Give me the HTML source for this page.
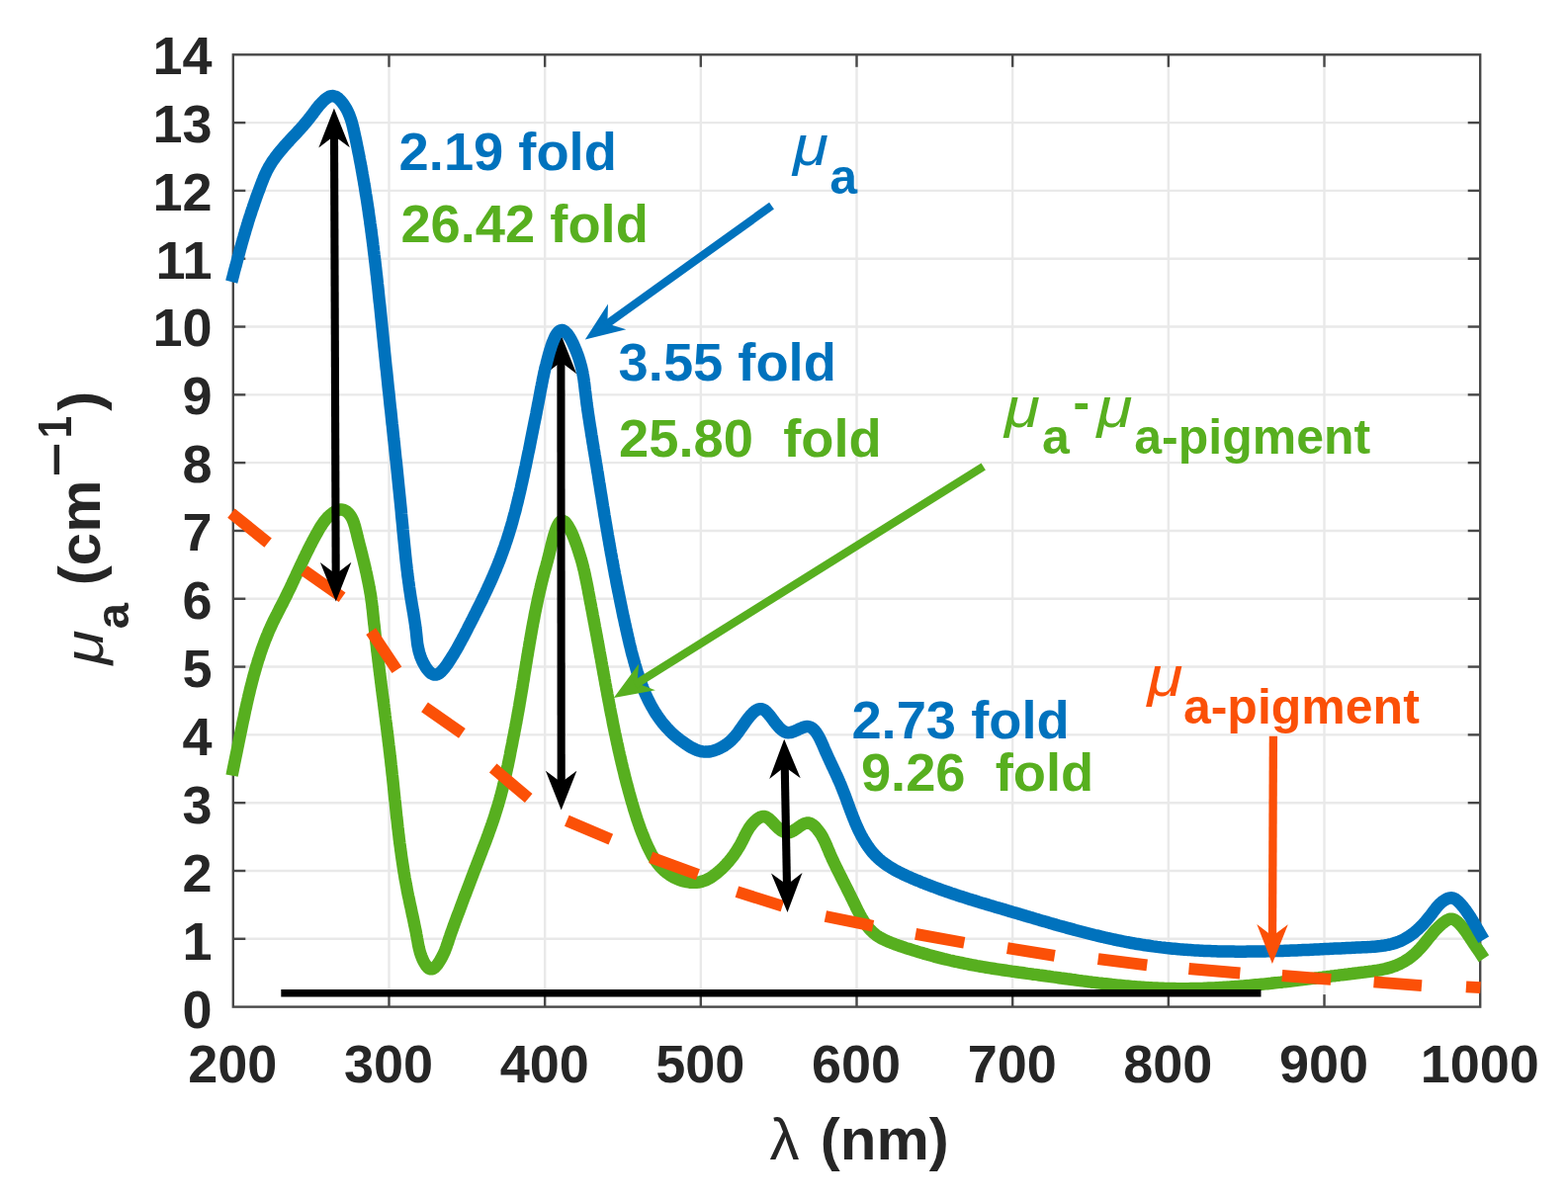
<!DOCTYPE html>
<html lang="en">
<head>
<meta charset="utf-8">
<title>Absorption coefficient spectra</title>
<style>
html,body{margin:0;padding:0;background:#fff;}
body{width:1586px;height:1214px;overflow:hidden;}
svg{display:block;}
text{font-family:"Liberation Sans",sans-serif;font-weight:bold;}
.tick{font-size:54px;fill:#262626;}
.lab{font-size:60px;fill:#262626;}
.ann{font-size:54.3px;}
.mu{font-family:"Liberation Sans",sans-serif;font-style:italic;font-weight:normal;}
.sub{font-size:50px;}
</style>
</head>
<body>
<svg width="1586" height="1214" viewBox="0 0 1586 1214">
<rect x="0" y="0" width="1586" height="1214" fill="#ffffff"/>
<g stroke="#e9e9e9" stroke-width="2.4" fill="none">
<line x1="393.48" y1="55.3" x2="393.48" y2="1018.6"/>
<line x1="551.15" y1="55.3" x2="551.15" y2="1018.6"/>
<line x1="708.83" y1="55.3" x2="708.83" y2="1018.6"/>
<line x1="866.50" y1="55.3" x2="866.50" y2="1018.6"/>
<line x1="1024.17" y1="55.3" x2="1024.17" y2="1018.6"/>
<line x1="1181.85" y1="55.3" x2="1181.85" y2="1018.6"/>
<line x1="1339.53" y1="55.3" x2="1339.53" y2="1018.6"/>
<line x1="235.8" y1="949.79" x2="1497.2" y2="949.79"/>
<line x1="235.8" y1="880.99" x2="1497.2" y2="880.99"/>
<line x1="235.8" y1="812.18" x2="1497.2" y2="812.18"/>
<line x1="235.8" y1="743.37" x2="1497.2" y2="743.37"/>
<line x1="235.8" y1="674.56" x2="1497.2" y2="674.56"/>
<line x1="235.8" y1="605.76" x2="1497.2" y2="605.76"/>
<line x1="235.8" y1="536.95" x2="1497.2" y2="536.95"/>
<line x1="235.8" y1="468.14" x2="1497.2" y2="468.14"/>
<line x1="235.8" y1="399.34" x2="1497.2" y2="399.34"/>
<line x1="235.8" y1="330.53" x2="1497.2" y2="330.53"/>
<line x1="235.8" y1="261.72" x2="1497.2" y2="261.72"/>
<line x1="235.8" y1="192.91" x2="1497.2" y2="192.91"/>
<line x1="235.8" y1="124.11" x2="1497.2" y2="124.11"/>
</g>
<g stroke="#484848" stroke-width="2.4" fill="none">
<rect x="235.8" y="55.3" width="1261.4" height="963.3000000000001"/>
<line x1="393.48" y1="1018.6" x2="393.48" y2="1006.1"/>
<line x1="393.48" y1="55.3" x2="393.48" y2="67.8"/>
<line x1="551.15" y1="1018.6" x2="551.15" y2="1006.1"/>
<line x1="551.15" y1="55.3" x2="551.15" y2="67.8"/>
<line x1="708.83" y1="1018.6" x2="708.83" y2="1006.1"/>
<line x1="708.83" y1="55.3" x2="708.83" y2="67.8"/>
<line x1="866.50" y1="1018.6" x2="866.50" y2="1006.1"/>
<line x1="866.50" y1="55.3" x2="866.50" y2="67.8"/>
<line x1="1024.17" y1="1018.6" x2="1024.17" y2="1006.1"/>
<line x1="1024.17" y1="55.3" x2="1024.17" y2="67.8"/>
<line x1="1181.85" y1="1018.6" x2="1181.85" y2="1006.1"/>
<line x1="1181.85" y1="55.3" x2="1181.85" y2="67.8"/>
<line x1="1339.53" y1="1018.6" x2="1339.53" y2="1006.1"/>
<line x1="1339.53" y1="55.3" x2="1339.53" y2="67.8"/>
<line x1="235.8" y1="949.79" x2="248.3" y2="949.79"/>
<line x1="1497.2" y1="949.79" x2="1484.7" y2="949.79"/>
<line x1="235.8" y1="880.99" x2="248.3" y2="880.99"/>
<line x1="1497.2" y1="880.99" x2="1484.7" y2="880.99"/>
<line x1="235.8" y1="812.18" x2="248.3" y2="812.18"/>
<line x1="1497.2" y1="812.18" x2="1484.7" y2="812.18"/>
<line x1="235.8" y1="743.37" x2="248.3" y2="743.37"/>
<line x1="1497.2" y1="743.37" x2="1484.7" y2="743.37"/>
<line x1="235.8" y1="674.56" x2="248.3" y2="674.56"/>
<line x1="1497.2" y1="674.56" x2="1484.7" y2="674.56"/>
<line x1="235.8" y1="605.76" x2="248.3" y2="605.76"/>
<line x1="1497.2" y1="605.76" x2="1484.7" y2="605.76"/>
<line x1="235.8" y1="536.95" x2="248.3" y2="536.95"/>
<line x1="1497.2" y1="536.95" x2="1484.7" y2="536.95"/>
<line x1="235.8" y1="468.14" x2="248.3" y2="468.14"/>
<line x1="1497.2" y1="468.14" x2="1484.7" y2="468.14"/>
<line x1="235.8" y1="399.34" x2="248.3" y2="399.34"/>
<line x1="1497.2" y1="399.34" x2="1484.7" y2="399.34"/>
<line x1="235.8" y1="330.53" x2="248.3" y2="330.53"/>
<line x1="1497.2" y1="330.53" x2="1484.7" y2="330.53"/>
<line x1="235.8" y1="261.72" x2="248.3" y2="261.72"/>
<line x1="1497.2" y1="261.72" x2="1484.7" y2="261.72"/>
<line x1="235.8" y1="192.91" x2="248.3" y2="192.91"/>
<line x1="1497.2" y1="192.91" x2="1484.7" y2="192.91"/>
<line x1="235.8" y1="124.11" x2="248.3" y2="124.11"/>
<line x1="1497.2" y1="124.11" x2="1484.7" y2="124.11"/>
</g>
<path d="M235.8,778.5 L236.2,776.5 L236.6,774.6 L237.0,772.6 L237.4,770.7 L237.8,768.7 L238.2,766.8 L238.6,764.8 L239.0,762.9 L239.4,760.9 L239.8,758.9 L240.2,757.0 L240.6,755.0 L241.0,753.1 L241.4,751.1 L241.8,749.2 L242.2,747.2 L242.6,745.3 L243.0,743.3 L243.4,741.3 L243.8,739.4 L244.2,737.4 L244.6,735.5 L245.0,733.5 L245.4,731.5 L245.8,729.6 L246.3,727.6 L246.7,725.7 L247.1,723.7 L247.5,721.7 L247.9,719.8 L248.3,717.8 L248.8,715.9 L249.2,713.9 L249.6,711.9 L250.1,710.0 L250.5,708.0 L251.0,706.1 L251.4,704.1 L251.9,702.2 L252.4,700.2 L252.8,698.3 L253.3,696.3 L253.8,694.4 L254.3,692.4 L254.8,690.5 L255.3,688.5 L255.8,686.6 L256.3,684.7 L256.8,682.7 L257.4,680.8 L257.9,678.9 L258.5,677.0 L259.0,675.0 L259.6,673.1 L260.2,671.2 L260.7,669.3 L261.3,667.4 L262.0,665.5 L262.6,663.6 L263.2,661.7 L263.8,659.8 L264.5,657.9 L265.1,656.1 L265.8,654.2 L266.5,652.3 L267.2,650.4 L267.9,648.6 L268.6,646.7 L269.4,644.9 L270.1,643.0 L270.9,641.2 L271.6,639.3 L272.4,637.5 L273.2,635.7 L274.1,633.9 L274.9,632.0 L275.7,630.2 L276.6,628.4 L277.5,626.6 L278.4,624.8 L279.3,623.0 L280.2,621.3 L281.1,619.5 L282.0,617.7 L282.9,615.9 L283.8,614.1 L284.7,612.4 L285.7,610.6 L286.6,608.8 L287.5,607.0 L288.4,605.2 L289.3,603.4 L290.2,601.6 L291.0,599.8 L291.9,598.0 L292.8,596.2 L293.7,594.4 L294.5,592.6 L295.4,590.8 L296.2,588.9 L297.1,587.1 L297.9,585.3 L298.8,583.5 L299.6,581.7 L300.5,579.8 L301.3,578.0 L302.1,576.2 L303.0,574.4 L303.8,572.6 L304.7,570.8 L305.5,569.0 L306.4,567.2 L307.3,565.3 L308.1,563.5 L309.0,561.7 L309.8,560.0 L310.7,558.2 L311.6,556.4 L312.5,554.6 L313.4,552.8 L314.3,551.0 L315.2,549.3 L316.1,547.5 L317.0,545.8 L318.0,544.0 L318.9,542.3 L319.9,540.5 L320.9,538.8 L321.8,537.1 L322.8,535.4 L323.8,533.7 L324.9,532.0 L326.0,530.3 L327.1,528.7 L328.3,527.1 L329.6,525.5 L330.9,524.0 L332.4,522.5 L333.9,521.1 L335.6,519.7 L337.4,518.4 L339.2,517.2 L341.1,516.3 L343.0,515.7 L344.9,515.4 L346.7,515.6 L348.5,516.3 L350.2,517.2 L351.8,518.5 L353.2,520.0 L354.4,521.7 L355.5,523.4 L356.4,525.1 L357.2,527.0 L357.9,528.9 L358.5,530.8 L359.1,532.7 L359.6,534.7 L360.1,536.7 L360.6,538.6 L361.1,540.6 L361.5,542.5 L362.0,544.5 L362.5,546.5 L363.0,548.4 L363.5,550.4 L364.0,552.3 L364.5,554.3 L365.0,556.2 L365.5,558.2 L366.0,560.1 L366.4,562.0 L366.9,564.0 L367.4,565.9 L367.9,567.9 L368.3,569.8 L368.8,571.8 L369.3,573.7 L369.7,575.6 L370.1,577.6 L370.6,579.5 L371.0,581.5 L371.4,583.4 L371.8,585.4 L372.2,587.3 L372.6,589.3 L373.0,591.2 L373.4,593.2 L373.7,595.1 L374.1,597.1 L374.4,599.0 L374.8,601.0 L375.1,603.0 L375.4,604.9 L375.6,606.9 L375.9,608.9 L376.2,610.9 L376.4,612.8 L376.6,614.8 L376.9,616.8 L377.1,618.8 L377.3,620.8 L377.5,622.8 L377.7,624.8 L377.9,626.8 L378.1,628.7 L378.3,630.7 L378.6,632.7 L378.8,634.7 L379.0,636.7 L379.2,638.7 L379.4,640.7 L379.6,642.7 L379.8,644.7 L380.1,646.7 L380.3,648.7 L380.5,650.6 L380.8,652.6 L381.0,654.6 L381.2,656.6 L381.4,658.6 L381.7,660.6 L381.9,662.6 L382.2,664.6 L382.4,666.5 L382.6,668.5 L382.9,670.5 L383.1,672.5 L383.4,674.5 L383.6,676.5 L383.8,678.5 L384.1,680.4 L384.3,682.4 L384.6,684.4 L384.8,686.4 L385.1,688.4 L385.3,690.4 L385.6,692.4 L385.8,694.3 L386.1,696.3 L386.3,698.3 L386.6,700.3 L386.8,702.3 L387.1,704.3 L387.4,706.3 L387.6,708.2 L387.9,710.2 L388.1,712.2 L388.4,714.2 L388.6,716.2 L388.9,718.2 L389.1,720.1 L389.4,722.1 L389.6,724.1 L389.9,726.1 L390.1,728.1 L390.4,730.1 L390.6,732.0 L390.9,734.0 L391.1,736.0 L391.4,738.0 L391.6,740.0 L391.9,742.0 L392.1,743.9 L392.4,745.9 L392.6,747.9 L392.8,749.9 L393.1,751.9 L393.3,753.9 L393.6,755.8 L393.8,757.8 L394.0,759.8 L394.3,761.8 L394.5,763.8 L394.7,765.8 L395.0,767.7 L395.2,769.7 L395.4,771.7 L395.6,773.7 L395.9,775.7 L396.1,777.7 L396.3,779.6 L396.5,781.6 L396.7,783.6 L397.0,785.6 L397.2,787.6 L397.4,789.6 L397.6,791.5 L397.8,793.5 L398.0,795.5 L398.2,797.5 L398.4,799.5 L398.6,801.5 L398.8,803.5 L399.0,805.4 L399.2,807.4 L399.4,809.4 L399.7,811.4 L399.9,813.4 L400.1,815.4 L400.3,817.3 L400.5,819.3 L400.7,821.3 L400.9,823.3 L401.1,825.3 L401.3,827.3 L401.6,829.3 L401.8,831.2 L402.0,833.2 L402.2,835.2 L402.4,837.2 L402.7,839.2 L402.9,841.2 L403.1,843.1 L403.4,845.1 L403.6,847.1 L403.8,849.1 L404.1,851.1 L404.3,853.1 L404.6,855.0 L404.9,857.0 L405.1,859.0 L405.4,861.0 L405.7,863.0 L405.9,864.9 L406.2,866.9 L406.5,868.9 L406.8,870.9 L407.1,872.9 L407.4,874.8 L407.7,876.8 L408.0,878.8 L408.3,880.8 L408.6,882.8 L409.0,884.7 L409.3,886.7 L409.6,888.7 L410.0,890.7 L410.4,892.7 L410.7,894.6 L411.1,896.6 L411.5,898.6 L411.8,900.6 L412.2,902.5 L412.6,904.5 L413.0,906.5 L413.5,908.5 L413.9,910.4 L414.3,912.4 L414.7,914.4 L415.1,916.3 L415.6,918.3 L416.0,920.3 L416.4,922.2 L416.8,924.2 L417.2,926.1 L417.7,928.1 L418.1,930.0 L418.5,932.0 L418.9,933.9 L419.3,935.9 L419.7,937.8 L420.1,939.7 L420.5,941.6 L420.9,943.6 L421.2,945.5 L421.6,947.4 L421.9,949.3 L422.3,951.2 L422.6,953.1 L422.9,955.0 L423.3,956.9 L423.7,958.8 L424.2,960.8 L424.7,962.8 L425.4,964.9 L426.1,967.0 L426.9,969.1 L427.9,971.3 L428.9,973.4 L430.1,975.4 L431.3,977.2 L432.6,978.7 L433.9,979.7 L435.3,980.3 L436.8,980.3 L438.2,979.8 L439.7,978.8 L441.1,977.4 L442.5,975.7 L443.8,973.8 L445.1,971.7 L446.3,969.6 L447.4,967.5 L448.4,965.5 L449.3,963.6 L450.1,961.7 L450.8,959.8 L451.5,958.0 L452.1,956.1 L452.8,954.3 L453.4,952.6 L453.9,950.8 L454.5,949.0 L455.2,947.1 L455.8,945.3 L456.4,943.5 L457.1,941.6 L457.8,939.8 L458.4,937.9 L459.1,936.0 L459.8,934.1 L460.5,932.2 L461.2,930.3 L461.9,928.4 L462.6,926.5 L463.3,924.6 L464.1,922.7 L464.8,920.8 L465.5,918.9 L466.2,917.0 L466.9,915.1 L467.6,913.2 L468.3,911.3 L469.0,909.4 L469.7,907.6 L470.4,905.7 L471.2,903.8 L471.9,901.9 L472.6,900.1 L473.3,898.2 L474.0,896.3 L474.7,894.5 L475.4,892.6 L476.1,890.8 L476.8,888.9 L477.5,887.0 L478.2,885.2 L478.9,883.3 L479.6,881.5 L480.3,879.6 L481.1,877.8 L481.8,875.9 L482.5,874.0 L483.2,872.2 L483.9,870.3 L484.6,868.5 L485.4,866.6 L486.1,864.7 L486.8,862.9 L487.5,861.0 L488.2,859.1 L488.9,857.3 L489.7,855.4 L490.4,853.5 L491.1,851.7 L491.8,849.8 L492.5,847.9 L493.2,846.0 L493.9,844.2 L494.5,842.3 L495.2,840.4 L495.9,838.5 L496.6,836.6 L497.2,834.7 L497.9,832.9 L498.5,831.0 L499.2,829.1 L499.8,827.2 L500.4,825.3 L501.0,823.4 L501.6,821.4 L502.2,819.5 L502.8,817.6 L503.4,815.7 L504.0,813.8 L504.5,811.8 L505.1,809.9 L505.6,808.0 L506.2,806.0 L506.7,804.1 L507.2,802.2 L507.7,800.2 L508.2,798.3 L508.7,796.3 L509.2,794.4 L509.6,792.4 L510.1,790.4 L510.5,788.5 L511.0,786.5 L511.4,784.6 L511.9,782.6 L512.3,780.6 L512.7,778.7 L513.1,776.7 L513.6,774.8 L514.0,772.8 L514.4,770.8 L514.8,768.9 L515.2,766.9 L515.6,764.9 L516.0,763.0 L516.3,761.0 L516.7,759.1 L517.1,757.1 L517.5,755.2 L517.9,753.2 L518.3,751.3 L518.6,749.3 L519.0,747.4 L519.4,745.5 L519.8,743.5 L520.2,741.6 L520.5,739.6 L520.9,737.7 L521.3,735.8 L521.6,733.8 L522.0,731.9 L522.4,729.9 L522.7,728.0 L523.1,726.0 L523.4,724.1 L523.8,722.1 L524.1,720.2 L524.5,718.2 L524.8,716.3 L525.2,714.3 L525.5,712.3 L525.8,710.3 L526.2,708.4 L526.5,706.4 L526.8,704.4 L527.2,702.4 L527.5,700.5 L527.8,698.5 L528.2,696.5 L528.5,694.5 L528.8,692.5 L529.1,690.5 L529.5,688.5 L529.8,686.5 L530.1,684.5 L530.4,682.6 L530.7,680.6 L531.1,678.6 L531.4,676.6 L531.7,674.6 L532.0,672.6 L532.4,670.6 L532.7,668.6 L533.0,666.6 L533.3,664.6 L533.7,662.6 L534.0,660.6 L534.3,658.6 L534.6,656.7 L535.0,654.7 L535.3,652.7 L535.6,650.7 L536.0,648.7 L536.3,646.7 L536.7,644.7 L537.0,642.8 L537.4,640.8 L537.7,638.8 L538.1,636.8 L538.4,634.8 L538.8,632.9 L539.1,630.9 L539.5,628.9 L539.9,627.0 L540.3,625.0 L540.6,623.1 L541.0,621.1 L541.4,619.1 L541.8,617.2 L542.2,615.3 L542.6,613.3 L543.0,611.4 L543.4,609.4 L543.8,607.5 L544.2,605.6 L544.6,603.7 L545.1,601.7 L545.5,599.8 L545.9,597.9 L546.4,596.0 L546.8,594.1 L547.3,592.2 L547.7,590.3 L548.2,588.4 L548.7,586.5 L549.1,584.6 L549.6,582.8 L550.1,580.9 L550.6,579.0 L551.1,577.2 L551.6,575.3 L552.2,573.4 L552.7,571.5 L553.2,569.5 L553.8,567.5 L554.3,565.4 L554.9,563.2 L555.5,561.0 L556.0,558.6 L556.6,556.2 L557.2,553.8 L557.8,551.3 L558.5,548.8 L559.1,546.3 L559.7,543.9 L560.4,541.5 L561.1,539.3 L561.8,537.1 L562.5,535.1 L563.3,533.3 L564.0,531.6 L564.8,530.1 L565.6,528.9 L566.5,528.0 L567.3,527.3 L568.2,526.9 L569.1,526.8 L570.0,527.1 L571.0,527.7 L572.0,528.5 L573.0,529.7 L573.9,531.0 L574.9,532.6 L575.9,534.3 L576.9,536.2 L577.9,538.3 L578.9,540.4 L579.9,542.7 L580.8,545.1 L581.7,547.5 L582.6,549.9 L583.5,552.3 L584.3,554.7 L585.1,557.1 L585.8,559.4 L586.5,561.7 L587.2,563.8 L587.8,565.9 L588.4,567.8 L588.9,569.8 L589.4,571.7 L589.9,573.5 L590.3,575.4 L590.8,577.2 L591.2,579.0 L591.6,580.9 L592.0,582.8 L592.4,584.7 L592.8,586.6 L593.2,588.5 L593.6,590.5 L594.0,592.4 L594.4,594.4 L594.8,596.4 L595.1,598.4 L595.5,600.4 L595.9,602.4 L596.3,604.4 L596.6,606.4 L597.0,608.4 L597.4,610.4 L597.8,612.3 L598.1,614.3 L598.5,616.3 L598.9,618.3 L599.3,620.2 L599.6,622.2 L600.0,624.2 L600.4,626.1 L600.7,628.1 L601.1,630.0 L601.5,632.0 L601.8,634.0 L602.2,635.9 L602.6,637.9 L602.9,639.8 L603.3,641.8 L603.7,643.8 L604.0,645.7 L604.4,647.7 L604.7,649.6 L605.1,651.6 L605.5,653.6 L605.8,655.5 L606.2,657.5 L606.5,659.5 L606.9,661.4 L607.2,663.4 L607.6,665.3 L608.0,667.3 L608.3,669.3 L608.7,671.2 L609.0,673.2 L609.4,675.2 L609.7,677.1 L610.1,679.1 L610.4,681.1 L610.8,683.0 L611.2,685.0 L611.5,687.0 L611.9,688.9 L612.2,690.9 L612.6,692.9 L613.0,694.8 L613.3,696.8 L613.7,698.8 L614.1,700.7 L614.4,702.7 L614.8,704.7 L615.2,706.6 L615.5,708.6 L615.9,710.6 L616.3,712.5 L616.7,714.5 L617.0,716.5 L617.4,718.4 L617.8,720.4 L618.2,722.4 L618.6,724.3 L619.0,726.3 L619.4,728.3 L619.7,730.2 L620.1,732.2 L620.5,734.1 L620.9,736.1 L621.3,738.1 L621.7,740.0 L622.1,742.0 L622.6,743.9 L623.0,745.9 L623.4,747.9 L623.8,749.8 L624.2,751.8 L624.7,753.7 L625.1,755.7 L625.5,757.6 L625.9,759.6 L626.4,761.5 L626.8,763.5 L627.3,765.4 L627.7,767.4 L628.2,769.3 L628.6,771.3 L629.1,773.2 L629.6,775.2 L630.0,777.1 L630.5,779.0 L631.0,781.0 L631.5,782.9 L631.9,784.9 L632.4,786.8 L632.9,788.7 L633.4,790.7 L633.9,792.6 L634.4,794.5 L635.0,796.4 L635.5,798.4 L636.0,800.3 L636.5,802.2 L637.1,804.2 L637.6,806.1 L638.1,808.0 L638.7,809.9 L639.2,811.8 L639.8,813.7 L640.4,815.7 L640.9,817.6 L641.5,819.5 L642.1,821.4 L642.7,823.3 L643.3,825.2 L643.9,827.1 L644.5,829.0 L645.2,830.9 L645.8,832.8 L646.5,834.7 L647.1,836.6 L647.8,838.4 L648.5,840.3 L649.2,842.2 L650.0,844.1 L650.7,845.9 L651.5,847.8 L652.2,849.7 L653.0,851.5 L653.8,853.4 L654.6,855.2 L655.5,857.1 L656.4,858.9 L657.3,860.7 L658.2,862.5 L659.1,864.3 L660.1,866.0 L661.2,867.8 L662.2,869.4 L663.4,871.1 L664.5,872.7 L665.7,874.3 L667.0,875.9 L668.3,877.4 L669.7,878.8 L671.1,880.2 L672.6,881.5 L674.2,882.8 L675.8,884.0 L677.5,885.2 L679.2,886.3 L681.0,887.3 L682.8,888.2 L684.7,889.1 L686.5,889.9 L688.5,890.6 L690.4,891.2 L692.4,891.7 L694.4,892.1 L696.4,892.4 L698.4,892.7 L700.5,892.8 L702.5,892.8 L704.5,892.7 L706.5,892.5 L708.5,892.1 L710.4,891.6 L712.3,891.0 L714.1,890.3 L715.9,889.4 L717.7,888.5 L719.4,887.4 L721.1,886.3 L722.7,885.1 L724.3,883.9 L725.9,882.6 L727.4,881.3 L729.0,879.9 L730.4,878.6 L731.9,877.1 L733.3,875.7 L734.7,874.2 L736.0,872.7 L737.4,871.2 L738.6,869.7 L739.9,868.1 L741.1,866.5 L742.3,864.9 L743.4,863.2 L744.6,861.6 L745.6,859.9 L746.7,858.2 L747.7,856.5 L748.7,854.8 L749.6,853.1 L750.5,851.4 L751.4,849.6 L752.3,847.9 L753.1,846.1 L754.0,844.3 L754.9,842.6 L755.9,840.8 L756.9,839.1 L758.0,837.3 L759.3,835.6 L760.6,833.9 L762.1,832.2 L763.6,830.6 L765.3,829.1 L767.0,827.9 L768.7,826.9 L770.4,826.2 L772.1,826.0 L773.7,826.1 L775.3,826.7 L776.9,827.7 L778.4,828.9 L779.9,830.4 L781.5,831.9 L783.0,833.6 L784.6,835.3 L786.3,836.9 L787.9,838.4 L789.7,839.8 L791.5,840.9 L793.3,841.7 L795.1,842.2 L796.9,842.4 L798.7,842.1 L800.6,841.4 L802.4,840.5 L804.2,839.3 L806.0,838.1 L807.8,836.8 L809.6,835.5 L811.4,834.4 L813.2,833.4 L814.9,832.8 L816.7,832.5 L818.4,832.6 L820.1,833.2 L821.7,834.1 L823.3,835.4 L824.9,836.9 L826.3,838.5 L827.7,840.3 L829.0,842.0 L830.2,843.8 L831.3,845.6 L832.3,847.4 L833.2,849.2 L834.1,851.0 L834.9,852.8 L835.7,854.6 L836.5,856.4 L837.2,858.2 L838.0,860.0 L838.7,861.8 L839.5,863.7 L840.3,865.5 L841.1,867.3 L841.9,869.1 L842.8,870.9 L843.6,872.7 L844.5,874.5 L845.3,876.3 L846.2,878.1 L847.1,879.9 L848.0,881.7 L848.9,883.5 L849.8,885.3 L850.7,887.1 L851.6,888.9 L852.5,890.7 L853.4,892.5 L854.3,894.2 L855.2,896.0 L856.1,897.8 L857.0,899.6 L857.9,901.4 L858.8,903.2 L859.7,905.0 L860.6,906.8 L861.4,908.5 L862.3,910.3 L863.2,912.1 L864.1,914.0 L865.0,915.8 L865.8,917.6 L866.7,919.4 L867.6,921.2 L868.6,923.0 L869.5,924.8 L870.4,926.5 L871.4,928.3 L872.4,930.0 L873.5,931.7 L874.6,933.3 L875.7,935.0 L876.9,936.6 L878.1,938.1 L879.3,939.6 L880.7,941.0 L882.1,942.4 L883.5,943.8 L885.1,945.0 L886.7,946.3 L888.3,947.4 L890.1,948.5 L891.9,949.5 L893.8,950.4 L895.7,951.3 L897.6,952.2 L899.5,953.0 L901.5,953.8 L903.4,954.5 L905.3,955.3 L907.2,956.0 L909.1,956.6 L911.0,957.3 L912.8,957.9 L914.7,958.5 L916.5,959.2 L918.4,959.7 L920.3,960.3 L922.1,960.9 L924.0,961.5 L925.9,962.0 L927.7,962.6 L929.6,963.2 L931.5,963.7 L933.4,964.3 L935.4,964.9 L937.3,965.4 L939.2,966.0 L941.1,966.5 L943.1,967.0 L945.0,967.6 L946.9,968.1 L948.9,968.6 L950.8,969.1 L952.8,969.6 L954.7,970.1 L956.7,970.5 L958.6,971.0 L960.6,971.5 L962.5,971.9 L964.5,972.4 L966.4,972.8 L968.4,973.2 L970.3,973.6 L972.3,974.0 L974.2,974.4 L976.2,974.8 L978.2,975.2 L980.1,975.6 L982.1,976.0 L984.0,976.3 L986.0,976.7 L988.0,977.1 L989.9,977.4 L991.9,977.8 L993.9,978.1 L995.8,978.4 L997.8,978.8 L999.8,979.1 L1001.7,979.4 L1003.7,979.7 L1005.7,980.0 L1007.6,980.3 L1009.6,980.6 L1011.6,980.9 L1013.6,981.2 L1015.5,981.5 L1017.5,981.8 L1019.5,982.1 L1021.5,982.4 L1023.4,982.7 L1025.4,982.9 L1027.4,983.2 L1029.4,983.5 L1031.3,983.8 L1033.3,984.0 L1035.3,984.3 L1037.3,984.6 L1039.2,984.9 L1041.2,985.1 L1043.2,985.4 L1045.2,985.7 L1047.2,985.9 L1049.1,986.2 L1051.1,986.5 L1053.1,986.7 L1055.1,987.0 L1057.1,987.3 L1059.1,987.6 L1061.0,987.8 L1063.0,988.1 L1065.0,988.4 L1067.0,988.6 L1069.0,988.9 L1071.0,989.2 L1072.9,989.5 L1074.9,989.7 L1076.9,990.0 L1078.9,990.3 L1080.9,990.5 L1082.9,990.8 L1084.8,991.1 L1086.8,991.3 L1088.8,991.6 L1090.8,991.9 L1092.8,992.1 L1094.8,992.4 L1096.8,992.6 L1098.8,992.9 L1100.7,993.2 L1102.7,993.4 L1104.7,993.7 L1106.7,993.9 L1108.7,994.1 L1110.7,994.4 L1112.7,994.6 L1114.7,994.8 L1116.6,995.1 L1118.6,995.3 L1120.6,995.5 L1122.6,995.7 L1124.6,996.0 L1126.6,996.2 L1128.6,996.4 L1130.6,996.6 L1132.6,996.8 L1134.5,997.0 L1136.5,997.2 L1138.5,997.4 L1140.5,997.5 L1142.5,997.7 L1144.5,997.9 L1146.5,998.1 L1148.5,998.2 L1150.5,998.4 L1152.5,998.5 L1154.4,998.7 L1156.4,998.8 L1158.4,998.9 L1160.4,999.1 L1162.4,999.2 L1164.4,999.3 L1166.4,999.4 L1168.4,999.5 L1170.4,999.6 L1172.4,999.7 L1174.4,999.8 L1176.4,999.8 L1178.3,999.9 L1180.3,1000.0 L1182.3,1000.0 L1184.3,1000.1 L1186.3,1000.1 L1188.3,1000.1 L1190.3,1000.2 L1192.3,1000.2 L1194.3,1000.2 L1196.3,1000.2 L1198.3,1000.2 L1200.3,1000.2 L1202.2,1000.2 L1204.2,1000.1 L1206.2,1000.1 L1208.2,1000.1 L1210.2,1000.0 L1212.2,1000.0 L1214.2,999.9 L1216.2,999.9 L1218.2,999.8 L1220.2,999.7 L1222.2,999.6 L1224.2,999.6 L1226.2,999.5 L1228.1,999.4 L1230.1,999.3 L1232.1,999.2 L1234.1,999.1 L1236.1,999.0 L1238.1,998.8 L1240.1,998.7 L1242.1,998.6 L1244.1,998.4 L1246.1,998.3 L1248.1,998.2 L1250.1,998.0 L1252.1,997.9 L1254.0,997.7 L1256.0,997.6 L1258.0,997.4 L1260.0,997.2 L1262.0,997.1 L1264.0,996.9 L1266.0,996.7 L1268.0,996.5 L1270.0,996.3 L1272.0,996.2 L1274.0,996.0 L1276.0,995.8 L1278.0,995.6 L1280.0,995.4 L1282.0,995.2 L1283.9,995.0 L1285.9,994.8 L1287.9,994.5 L1289.9,994.3 L1291.9,994.1 L1293.9,993.9 L1295.9,993.7 L1297.9,993.4 L1299.9,993.2 L1301.9,993.0 L1303.9,992.8 L1305.9,992.5 L1307.9,992.3 L1309.9,992.1 L1311.9,991.8 L1313.8,991.6 L1315.8,991.4 L1317.8,991.1 L1319.8,990.9 L1321.8,990.6 L1323.8,990.4 L1325.8,990.1 L1327.8,989.9 L1329.8,989.7 L1331.8,989.4 L1333.8,989.2 L1335.8,988.9 L1337.8,988.7 L1339.8,988.4 L1341.8,988.2 L1343.8,987.9 L1345.8,987.7 L1347.7,987.4 L1349.7,987.2 L1351.7,986.9 L1353.7,986.7 L1355.7,986.4 L1357.7,986.2 L1359.7,986.0 L1361.7,985.7 L1363.7,985.5 L1365.7,985.2 L1367.7,985.0 L1369.7,984.7 L1371.7,984.5 L1373.7,984.3 L1375.7,984.0 L1377.7,983.8 L1379.7,983.6 L1381.7,983.3 L1383.6,983.1 L1385.6,982.8 L1387.6,982.6 L1389.6,982.3 L1391.6,982.0 L1393.5,981.7 L1395.5,981.3 L1397.4,981.0 L1399.4,980.5 L1401.3,980.1 L1403.2,979.6 L1405.1,979.1 L1407.0,978.6 L1408.9,977.9 L1410.7,977.3 L1412.5,976.6 L1414.4,975.8 L1416.2,975.0 L1417.9,974.1 L1419.7,973.1 L1421.4,972.1 L1423.1,971.0 L1424.8,969.9 L1426.4,968.7 L1428.0,967.5 L1429.6,966.2 L1431.1,964.9 L1432.6,963.5 L1434.0,962.1 L1435.4,960.6 L1436.8,959.2 L1438.1,957.7 L1439.4,956.1 L1440.7,954.6 L1442.0,953.0 L1443.2,951.5 L1444.5,949.9 L1445.7,948.4 L1447.0,946.8 L1448.3,945.3 L1449.6,943.7 L1450.9,942.2 L1452.2,940.7 L1453.6,939.3 L1455.0,937.9 L1456.5,936.5 L1458.0,935.1 L1459.5,933.8 L1461.2,932.6 L1462.8,931.4 L1464.6,930.5 L1466.3,929.8 L1468.1,929.7 L1469.8,930.0 L1471.6,930.8 L1473.3,931.9 L1474.9,933.3 L1476.5,934.9 L1478.0,936.6 L1479.4,938.2 L1480.7,939.9 L1481.9,941.5 L1483.1,943.2 L1484.2,944.8 L1485.3,946.4 L1486.4,948.0 L1487.4,949.7 L1488.5,951.3 L1489.6,952.9 L1490.7,954.6 L1491.8,956.2 L1492.9,957.9 L1494.1,959.5 L1495.2,961.2 L1496.4,962.8 L1497.5,964.5" fill="none" stroke="#57AF1F" stroke-width="12.5" stroke-linejoin="round" stroke-linecap="square"/>
<line x1="284.3" y1="1004.8" x2="1275.5" y2="1004.8" stroke="#000" stroke-width="7.6"/>
<g stroke="#FB5007" stroke-width="11.8" stroke-linecap="butt">
<line x1="233.9" y1="519.1" x2="271.1" y2="549.1"/>
<line x1="307.6" y1="577.1" x2="346.1" y2="604.2"/>
<line x1="375.2" y1="638.6" x2="401.4" y2="677.7"/>
<line x1="429.5" y1="715.4" x2="467.4" y2="741.9"/>
<line x1="498.7" y1="777.1" x2="534.7" y2="807.4"/>
<line x1="573.3" y1="830.2" x2="617.8" y2="849.1"/>
<line x1="658.2" y1="867.4" x2="705.9" y2="884.8"/>
<line x1="745.4" y1="902.1" x2="791.4" y2="916.6"/>
<line x1="834.9" y1="927.0" x2="883.0" y2="936.7"/>
<line x1="926.1" y1="944.9" x2="975.3" y2="953.7"/>
<line x1="1018.9" y1="959.2" x2="1066.8" y2="966.8"/>
<line x1="1110.7" y1="970.1" x2="1160.2" y2="976.4"/>
<line x1="1202.5" y1="980.0" x2="1254.3" y2="984.5"/>
<line x1="1296.8" y1="987" x2="1346.2" y2="990.8"/>
<line x1="1389.6" y1="993.3" x2="1438" y2="997.1"/>
<line x1="1482.9" y1="998.3" x2="1497.5" y2="999.2"/>
</g>
<g fill="#000" stroke="none">
<polygon points="337.9,109.6 353.8,149.3 338.0,137.5 322.3,149.5"/>
<polygon points="339.8,608.6 323.9,568.9 339.7,580.7 355.4,568.7"/>
</g>
<line x1="338.0" y1="134.7" x2="339.7" y2="583.5" stroke="#000" stroke-width="8.1"/>
<g fill="#000" stroke="none">
<polygon points="567.4,338.4 583.2,378.2 567.4,366.3 551.7,378.2"/>
<polygon points="567.7,819.5 551.9,779.7 567.7,791.6 583.4,779.7"/>
</g>
<line x1="567.4" y1="363.5" x2="567.7" y2="794.4" stroke="#000" stroke-width="8.1"/>
<g fill="#000" stroke="none">
<polygon points="793.2,747.8 809.7,787.3 793.7,775.7 778.2,787.9"/>
<polygon points="796.5,923.0 780.0,883.5 796.0,895.1 811.5,882.9"/>
</g>
<line x1="793.7" y1="772.9" x2="796.0" y2="897.9" stroke="#000" stroke-width="8.1"/>
<path d="M235.8,279.0 L236.3,277.1 L236.8,275.1 L237.3,273.2 L237.8,271.3 L238.4,269.3 L238.9,267.4 L239.4,265.5 L239.9,263.5 L240.4,261.6 L240.9,259.7 L241.5,257.7 L242.0,255.8 L242.5,253.9 L243.0,251.9 L243.6,250.0 L244.1,248.1 L244.6,246.2 L245.2,244.2 L245.7,242.3 L246.3,240.4 L246.8,238.5 L247.4,236.6 L248.0,234.6 L248.5,232.7 L249.1,230.8 L249.7,228.9 L250.3,227.0 L250.8,225.1 L251.4,223.2 L252.0,221.3 L252.6,219.3 L253.3,217.4 L253.9,215.5 L254.5,213.6 L255.1,211.7 L255.8,209.9 L256.4,208.0 L257.1,206.1 L257.7,204.2 L258.4,202.3 L259.0,200.4 L259.7,198.5 L260.4,196.6 L261.1,194.7 L261.8,192.9 L262.5,191.0 L263.2,189.1 L263.9,187.2 L264.6,185.3 L265.3,183.5 L266.1,181.6 L266.8,179.8 L267.6,177.9 L268.4,176.1 L269.3,174.3 L270.1,172.5 L271.1,170.7 L272.0,169.0 L273.0,167.3 L274.1,165.6 L275.1,163.9 L276.2,162.3 L277.4,160.7 L278.5,159.1 L279.7,157.5 L280.9,155.9 L282.2,154.4 L283.5,152.8 L284.7,151.3 L286.0,149.8 L287.4,148.2 L288.7,146.7 L290.0,145.3 L291.4,143.8 L292.7,142.3 L294.1,140.8 L295.5,139.3 L296.9,137.8 L298.2,136.4 L299.6,134.9 L301.0,133.4 L302.3,131.9 L303.7,130.4 L305.0,129.0 L306.4,127.5 L307.7,125.9 L309.0,124.4 L310.3,122.9 L311.5,121.4 L312.8,119.8 L314.0,118.2 L315.2,116.6 L316.4,115.1 L317.5,113.5 L318.7,111.9 L319.9,110.3 L321.2,108.7 L322.4,107.2 L323.7,105.7 L325.1,104.2 L326.5,102.7 L328.0,101.3 L329.5,100.0 L331.2,98.8 L332.9,97.8 L334.8,97.2 L336.8,97.1 L338.7,97.5 L340.5,98.3 L342.1,99.4 L343.5,100.8 L344.9,102.3 L346.2,103.9 L347.5,105.6 L348.6,107.2 L349.7,109.0 L350.7,110.7 L351.6,112.5 L352.4,114.3 L353.2,116.1 L353.9,117.9 L354.6,119.8 L355.2,121.7 L355.8,123.6 L356.3,125.5 L356.8,127.5 L357.3,129.4 L357.7,131.4 L358.2,133.3 L358.6,135.3 L359.0,137.2 L359.5,139.2 L359.9,141.1 L360.3,143.1 L360.7,145.1 L361.1,147.0 L361.5,149.0 L361.9,150.9 L362.3,152.9 L362.7,154.9 L363.1,156.8 L363.5,158.8 L363.8,160.8 L364.2,162.7 L364.6,164.7 L365.0,166.7 L365.3,168.6 L365.7,170.6 L366.0,172.6 L366.4,174.5 L366.7,176.5 L367.1,178.5 L367.4,180.4 L367.8,182.4 L368.1,184.4 L368.4,186.3 L368.8,188.3 L369.1,190.3 L369.4,192.3 L369.7,194.2 L370.0,196.2 L370.4,198.2 L370.7,200.2 L371.0,202.1 L371.3,204.1 L371.6,206.1 L371.9,208.1 L372.2,210.0 L372.5,212.0 L372.8,214.0 L373.0,216.0 L373.3,217.9 L373.6,219.9 L373.9,221.9 L374.2,223.9 L374.4,225.9 L374.7,227.8 L375.0,229.8 L375.3,231.8 L375.5,233.8 L375.8,235.8 L376.0,237.7 L376.3,239.7 L376.6,241.7 L376.8,243.7 L377.1,245.7 L377.3,247.7 L377.6,249.6 L377.8,251.6 L378.0,253.6 L378.3,255.6 L378.5,257.6 L378.8,259.6 L379.0,261.5 L379.2,263.5 L379.5,265.5 L379.7,267.5 L379.9,269.5 L380.2,271.5 L380.4,273.5 L380.6,275.4 L380.8,277.4 L381.1,279.4 L381.3,281.4 L381.5,283.4 L381.7,285.4 L381.9,287.4 L382.2,289.4 L382.4,291.3 L382.6,293.3 L382.8,295.3 L383.0,297.3 L383.2,299.3 L383.4,301.3 L383.6,303.3 L383.8,305.3 L384.1,307.3 L384.3,309.2 L384.5,311.2 L384.7,313.2 L384.9,315.2 L385.1,317.2 L385.3,319.2 L385.5,321.2 L385.7,323.2 L385.9,325.2 L386.1,327.2 L386.3,329.2 L386.5,331.1 L386.7,333.1 L386.9,335.1 L387.1,337.1 L387.3,339.1 L387.5,341.1 L387.7,343.1 L387.9,345.1 L388.1,347.1 L388.3,349.1 L388.5,351.1 L388.7,353.0 L388.9,355.0 L389.1,357.0 L389.3,359.0 L389.5,361.0 L389.7,363.0 L389.9,365.0 L390.1,367.0 L390.3,369.0 L390.5,371.0 L390.7,372.9 L391.0,374.9 L391.2,376.9 L391.4,378.9 L391.6,380.9 L391.8,382.9 L392.0,384.9 L392.2,386.9 L392.4,388.9 L392.6,390.9 L392.8,392.8 L393.0,394.8 L393.3,396.8 L393.5,398.8 L393.7,400.8 L393.9,402.8 L394.1,404.8 L394.3,406.8 L394.5,408.8 L394.7,410.8 L394.9,412.7 L395.2,414.7 L395.4,416.7 L395.6,418.7 L395.8,420.7 L396.0,422.7 L396.2,424.7 L396.4,426.7 L396.6,428.7 L396.9,430.6 L397.1,432.6 L397.3,434.6 L397.5,436.6 L397.7,438.6 L397.9,440.6 L398.1,442.6 L398.3,444.6 L398.6,446.6 L398.8,448.5 L399.0,450.5 L399.2,452.5 L399.4,454.5 L399.6,456.5 L399.8,458.5 L400.0,460.5 L400.2,462.5 L400.4,464.4 L400.7,466.4 L400.9,468.4 L401.1,470.4 L401.3,472.4 L401.5,474.4 L401.7,476.4 L401.9,478.4 L402.1,480.3 L402.3,482.3 L402.5,484.3 L402.7,486.3 L402.9,488.3 L403.1,490.3 L403.3,492.3 L403.5,494.3 L403.7,496.2 L403.9,498.2 L404.1,500.2 L404.3,502.2 L404.5,504.2 L404.7,506.2 L404.9,508.2 L405.1,510.1 L405.3,512.1 L405.5,514.1 L405.7,516.1 L405.9,518.1 L406.0,520.1 L406.2,522.1 L406.4,524.1 L406.6,526.0 L406.8,528.0 L407.0,530.0 L407.2,532.0 L407.4,534.0 L407.5,536.0 L407.7,538.0 L407.9,539.9 L408.1,541.9 L408.3,543.9 L408.5,545.9 L408.7,547.9 L408.9,549.9 L409.1,551.9 L409.3,553.8 L409.5,555.8 L409.7,557.8 L409.9,559.8 L410.1,561.8 L410.3,563.8 L410.5,565.8 L410.7,567.8 L410.9,569.7 L411.2,571.7 L411.4,573.7 L411.6,575.7 L411.9,577.7 L412.1,579.7 L412.3,581.7 L412.6,583.7 L412.9,585.7 L413.1,587.7 L413.4,589.6 L413.7,591.6 L413.9,593.6 L414.2,595.6 L414.5,597.6 L414.8,599.6 L415.1,601.6 L415.4,603.6 L415.7,605.6 L416.0,607.6 L416.4,609.6 L416.7,611.6 L417.0,613.6 L417.4,615.6 L417.7,617.6 L418.1,619.5 L418.4,621.5 L418.7,623.5 L419.0,625.5 L419.3,627.4 L419.6,629.4 L419.9,631.4 L420.2,633.3 L420.4,635.3 L420.7,637.2 L420.9,639.1 L421.1,641.0 L421.3,642.9 L421.5,644.9 L421.7,646.8 L421.9,648.7 L422.1,650.6 L422.4,652.5 L422.8,654.5 L423.2,656.4 L423.6,658.4 L424.1,660.3 L424.7,662.3 L425.4,664.4 L426.2,666.4 L427.1,668.5 L428.1,670.6 L429.3,672.7 L430.5,674.7 L431.8,676.6 L433.1,678.3 L434.6,679.8 L436.0,681.1 L437.5,682.0 L439.1,682.5 L440.6,682.6 L442.1,682.2 L443.7,681.5 L445.2,680.5 L446.7,679.1 L448.1,677.6 L449.6,675.8 L451.0,673.9 L452.4,672.0 L453.7,670.0 L455.0,668.0 L456.2,666.1 L457.4,664.2 L458.6,662.3 L459.7,660.5 L460.7,658.7 L461.8,656.9 L462.8,655.2 L463.8,653.4 L464.7,651.7 L465.6,650.0 L466.5,648.3 L467.4,646.7 L468.3,645.0 L469.2,643.3 L470.1,641.6 L470.9,640.0 L471.8,638.3 L472.7,636.6 L473.5,634.9 L474.4,633.2 L475.3,631.5 L476.2,629.7 L477.1,628.0 L478.0,626.2 L478.9,624.5 L479.7,622.7 L480.6,621.0 L481.5,619.2 L482.4,617.4 L483.3,615.6 L484.2,613.8 L485.1,612.0 L486.0,610.2 L486.9,608.4 L487.8,606.6 L488.6,604.8 L489.5,603.0 L490.4,601.1 L491.3,599.3 L492.1,597.5 L493.0,595.6 L493.8,593.8 L494.7,591.9 L495.5,590.1 L496.4,588.2 L497.2,586.4 L498.0,584.5 L498.8,582.7 L499.6,580.8 L500.4,578.9 L501.2,577.1 L502.0,575.2 L502.7,573.3 L503.5,571.5 L504.2,569.6 L505.0,567.7 L505.7,565.9 L506.4,564.0 L507.1,562.1 L507.8,560.3 L508.5,558.4 L509.1,556.5 L509.8,554.7 L510.5,552.8 L511.1,550.9 L511.7,549.0 L512.4,547.2 L513.0,545.3 L513.6,543.4 L514.2,541.5 L514.8,539.6 L515.4,537.7 L515.9,535.8 L516.5,534.0 L517.1,532.1 L517.6,530.2 L518.2,528.3 L518.7,526.3 L519.2,524.4 L519.7,522.5 L520.2,520.6 L520.8,518.7 L521.3,516.8 L521.8,514.9 L522.2,512.9 L522.7,511.0 L523.2,509.1 L523.7,507.2 L524.1,505.2 L524.6,503.3 L525.1,501.3 L525.5,499.4 L526.0,497.5 L526.4,495.5 L526.9,493.6 L527.3,491.6 L527.7,489.6 L528.2,487.7 L528.6,485.7 L529.0,483.8 L529.5,481.8 L529.9,479.8 L530.3,477.8 L530.7,475.9 L531.1,473.9 L531.6,471.9 L532.0,469.9 L532.4,467.9 L532.8,465.9 L533.2,463.9 L533.6,461.9 L534.0,459.9 L534.4,457.9 L534.9,455.9 L535.3,453.9 L535.7,451.9 L536.1,449.9 L536.5,447.8 L536.9,445.8 L537.3,443.8 L537.7,441.8 L538.1,439.8 L538.5,437.8 L538.9,435.8 L539.3,433.8 L539.7,431.8 L540.1,429.8 L540.5,427.8 L540.9,425.8 L541.3,423.9 L541.7,421.9 L542.1,419.9 L542.5,418.0 L542.8,416.1 L543.2,414.1 L543.6,412.2 L543.9,410.3 L544.3,408.4 L544.7,406.5 L545.0,404.7 L545.4,402.8 L545.7,401.0 L546.1,399.1 L546.4,397.3 L546.7,395.5 L547.1,393.7 L547.4,391.9 L547.8,390.1 L548.1,388.3 L548.5,386.5 L548.8,384.7 L549.2,382.8 L549.6,381.0 L550.0,379.1 L550.4,377.1 L550.9,375.1 L551.3,373.1 L551.8,371.1 L552.4,369.0 L552.9,366.8 L553.5,364.6 L554.1,362.3 L554.7,360.0 L555.4,357.6 L556.1,355.1 L556.9,352.7 L557.6,350.3 L558.4,347.9 L559.3,345.6 L560.2,343.5 L561.1,341.4 L562.0,339.6 L563.0,338.0 L564.0,336.6 L565.0,335.5 L566.1,334.6 L567.2,334.1 L568.3,334.0 L569.4,334.2 L570.6,334.8 L571.7,335.6 L572.9,336.8 L574.1,338.1 L575.3,339.8 L576.4,341.6 L577.6,343.5 L578.7,345.7 L579.8,347.9 L580.8,350.2 L581.8,352.6 L582.8,355.0 L583.7,357.4 L584.6,359.8 L585.4,362.1 L586.1,364.3 L586.7,366.5 L587.3,368.7 L587.9,370.8 L588.4,372.8 L588.8,374.9 L589.3,376.8 L589.6,378.8 L590.0,380.7 L590.3,382.6 L590.6,384.5 L590.8,386.3 L591.1,388.2 L591.3,390.0 L591.5,391.8 L591.7,393.6 L591.9,395.5 L592.2,397.3 L592.4,399.1 L592.6,401.0 L592.8,402.9 L593.1,404.7 L593.3,406.6 L593.5,408.5 L593.8,410.5 L594.1,412.4 L594.3,414.3 L594.6,416.3 L594.9,418.2 L595.2,420.2 L595.5,422.2 L595.8,424.1 L596.1,426.1 L596.4,428.1 L596.7,430.1 L597.0,432.1 L597.4,434.1 L597.7,436.2 L598.0,438.2 L598.3,440.2 L598.7,442.2 L599.0,444.2 L599.3,446.3 L599.6,448.3 L600.0,450.3 L600.3,452.3 L600.6,454.4 L601.0,456.4 L601.3,458.4 L601.6,460.4 L602.0,462.4 L602.3,464.4 L602.6,466.4 L602.9,468.4 L603.3,470.4 L603.6,472.4 L603.9,474.4 L604.2,476.4 L604.6,478.4 L604.9,480.4 L605.2,482.4 L605.5,484.4 L605.8,486.3 L606.1,488.3 L606.5,490.3 L606.8,492.3 L607.1,494.2 L607.4,496.2 L607.7,498.2 L608.0,500.1 L608.4,502.1 L608.7,504.1 L609.0,506.0 L609.3,508.0 L609.6,509.9 L609.9,511.9 L610.3,513.9 L610.6,515.8 L610.9,517.8 L611.2,519.7 L611.5,521.7 L611.9,523.7 L612.2,525.6 L612.5,527.6 L612.8,529.5 L613.2,531.5 L613.5,533.5 L613.8,535.4 L614.2,537.4 L614.5,539.3 L614.8,541.3 L615.2,543.3 L615.5,545.2 L615.9,547.2 L616.2,549.2 L616.5,551.1 L616.9,553.1 L617.2,555.1 L617.6,557.0 L617.9,559.0 L618.3,561.0 L618.7,562.9 L619.0,564.9 L619.4,566.9 L619.7,568.9 L620.1,570.8 L620.5,572.8 L620.8,574.8 L621.2,576.7 L621.6,578.7 L621.9,580.7 L622.3,582.6 L622.7,584.6 L623.1,586.6 L623.4,588.5 L623.8,590.5 L624.2,592.5 L624.6,594.4 L625.0,596.4 L625.4,598.4 L625.8,600.3 L626.2,602.3 L626.6,604.3 L627.0,606.2 L627.4,608.2 L627.8,610.2 L628.2,612.1 L628.6,614.1 L629.0,616.0 L629.4,618.0 L629.8,620.0 L630.2,621.9 L630.6,623.9 L631.1,625.8 L631.5,627.8 L631.9,629.7 L632.3,631.7 L632.8,633.6 L633.2,635.6 L633.6,637.5 L634.1,639.5 L634.5,641.4 L634.9,643.3 L635.4,645.3 L635.8,647.2 L636.3,649.1 L636.7,651.1 L637.2,653.0 L637.7,654.9 L638.2,656.9 L638.6,658.8 L639.1,660.7 L639.6,662.7 L640.2,664.6 L640.7,666.5 L641.2,668.4 L641.8,670.4 L642.3,672.3 L642.9,674.2 L643.4,676.1 L644.0,678.1 L644.6,680.0 L645.3,681.9 L645.9,683.8 L646.5,685.7 L647.2,687.6 L647.9,689.5 L648.6,691.4 L649.3,693.3 L650.0,695.2 L650.8,697.1 L651.5,698.9 L652.3,700.8 L653.1,702.6 L654.0,704.5 L654.8,706.3 L655.7,708.1 L656.6,709.9 L657.5,711.7 L658.4,713.4 L659.4,715.2 L660.4,716.9 L661.4,718.6 L662.4,720.3 L663.5,722.0 L664.6,723.7 L665.7,725.3 L666.9,726.9 L668.0,728.5 L669.2,730.1 L670.5,731.7 L671.7,733.2 L673.0,734.7 L674.3,736.2 L675.7,737.6 L677.1,739.1 L678.5,740.5 L679.9,741.8 L681.4,743.2 L682.9,744.5 L684.5,745.8 L686.0,747.1 L687.6,748.3 L689.3,749.5 L690.9,750.7 L692.6,751.9 L694.3,753.1 L696.0,754.2 L697.8,755.3 L699.5,756.3 L701.3,757.2 L703.1,758.1 L705.0,758.9 L706.8,759.5 L708.7,760.0 L710.7,760.4 L712.6,760.6 L714.6,760.6 L716.6,760.5 L718.6,760.2 L720.6,759.7 L722.6,759.2 L724.5,758.5 L726.5,757.7 L728.4,756.8 L730.3,755.8 L732.1,754.8 L733.8,753.6 L735.5,752.5 L737.1,751.2 L738.6,749.9 L740.0,748.6 L741.3,747.2 L742.6,745.8 L743.9,744.4 L745.1,742.8 L746.3,741.3 L747.5,739.6 L748.7,737.9 L750.0,736.1 L751.3,734.2 L752.7,732.3 L754.0,730.3 L755.5,728.4 L756.9,726.5 L758.4,724.7 L759.9,723.0 L761.4,721.4 L762.9,720.0 L764.4,718.9 L766.0,718.0 L767.5,717.4 L768.9,717.2 L770.4,717.3 L771.8,717.7 L773.3,718.5 L774.7,719.6 L776.0,721.0 L777.4,722.5 L778.8,724.2 L780.2,726.0 L781.6,727.9 L783.0,729.8 L784.5,731.7 L786.0,733.5 L787.5,735.3 L789.0,736.9 L790.6,738.3 L792.2,739.5 L793.9,740.4 L795.6,741.0 L797.4,741.2 L799.3,741.1 L801.2,740.6 L803.2,739.9 L805.1,739.1 L807.1,738.2 L809.1,737.2 L811.0,736.4 L812.9,735.7 L814.7,735.1 L816.4,734.9 L818.1,735.1 L819.7,735.6 L821.1,736.4 L822.5,737.5 L823.9,738.8 L825.1,740.3 L826.3,742.1 L827.5,744.0 L828.6,746.0 L829.7,748.1 L830.7,750.3 L831.7,752.5 L832.7,754.8 L833.6,757.0 L834.5,759.1 L835.5,761.2 L836.4,763.2 L837.3,765.2 L838.2,767.2 L839.1,769.1 L839.9,770.9 L840.8,772.8 L841.6,774.6 L842.5,776.4 L843.3,778.1 L844.1,779.9 L844.9,781.6 L845.7,783.3 L846.5,785.0 L847.3,786.8 L848.0,788.5 L848.8,790.2 L849.5,791.9 L850.3,793.6 L851.0,795.4 L851.7,797.1 L852.4,798.9 L853.1,800.7 L853.8,802.5 L854.5,804.3 L855.2,806.2 L855.9,808.0 L856.6,809.9 L857.2,811.8 L857.9,813.6 L858.6,815.5 L859.3,817.4 L860.0,819.3 L860.7,821.2 L861.5,823.1 L862.2,825.0 L862.9,826.9 L863.7,828.8 L864.4,830.6 L865.2,832.5 L866.0,834.4 L866.8,836.2 L867.7,838.1 L868.5,839.9 L869.4,841.7 L870.3,843.5 L871.2,845.3 L872.2,847.0 L873.2,848.8 L874.2,850.5 L875.2,852.2 L876.3,853.9 L877.4,855.5 L878.5,857.1 L879.7,858.7 L880.9,860.3 L882.1,861.8 L883.4,863.3 L884.7,864.7 L886.1,866.2 L887.5,867.5 L888.9,868.9 L890.4,870.2 L892.0,871.5 L893.5,872.7 L895.2,873.9 L896.8,875.0 L898.5,876.2 L900.2,877.2 L901.9,878.3 L903.7,879.3 L905.5,880.4 L907.3,881.3 L909.1,882.3 L911.0,883.2 L912.8,884.1 L914.7,885.0 L916.6,885.9 L918.5,886.8 L920.4,887.6 L922.3,888.4 L924.2,889.2 L926.1,890.1 L928.0,890.8 L929.9,891.6 L931.8,892.4 L933.7,893.2 L935.6,893.9 L937.5,894.7 L939.4,895.4 L941.3,896.1 L943.2,896.8 L945.1,897.5 L946.9,898.2 L948.8,898.9 L950.7,899.6 L952.6,900.3 L954.5,901.0 L956.4,901.6 L958.3,902.3 L960.1,902.9 L962.0,903.6 L963.9,904.2 L965.8,904.8 L967.7,905.5 L969.5,906.1 L971.4,906.7 L973.3,907.3 L975.2,907.9 L977.1,908.5 L978.9,909.1 L980.8,909.7 L982.7,910.3 L984.6,910.9 L986.5,911.4 L988.3,912.0 L990.2,912.6 L992.1,913.2 L994.0,913.7 L995.9,914.3 L997.7,914.9 L999.6,915.4 L1001.5,916.0 L1003.4,916.5 L1005.3,917.1 L1007.2,917.7 L1009.1,918.2 L1011.0,918.8 L1012.8,919.3 L1014.7,919.9 L1016.6,920.4 L1018.5,921.0 L1020.4,921.6 L1022.3,922.1 L1024.2,922.7 L1026.1,923.2 L1028.0,923.8 L1029.9,924.4 L1031.8,924.9 L1033.7,925.5 L1035.7,926.1 L1037.6,926.6 L1039.5,927.2 L1041.4,927.8 L1043.3,928.3 L1045.2,928.9 L1047.1,929.5 L1049.1,930.0 L1051.0,930.6 L1052.9,931.2 L1054.8,931.7 L1056.8,932.3 L1058.7,932.8 L1060.6,933.4 L1062.6,934.0 L1064.5,934.5 L1066.4,935.1 L1068.4,935.6 L1070.3,936.2 L1072.2,936.7 L1074.2,937.2 L1076.1,937.8 L1078.0,938.3 L1080.0,938.9 L1081.9,939.4 L1083.9,939.9 L1085.8,940.4 L1087.8,941.0 L1089.7,941.5 L1091.7,942.0 L1093.6,942.5 L1095.6,943.0 L1097.5,943.5 L1099.5,944.0 L1101.4,944.5 L1103.4,945.0 L1105.3,945.5 L1107.3,946.0 L1109.2,946.4 L1111.2,946.9 L1113.2,947.4 L1115.1,947.8 L1117.1,948.3 L1119.0,948.7 L1121.0,949.2 L1123.0,949.6 L1124.9,950.0 L1126.9,950.5 L1128.9,950.9 L1130.8,951.3 L1132.8,951.7 L1134.8,952.1 L1136.7,952.5 L1138.7,952.9 L1140.7,953.2 L1142.6,953.6 L1144.6,954.0 L1146.6,954.3 L1148.5,954.7 L1150.5,955.0 L1152.5,955.3 L1154.5,955.6 L1156.4,956.0 L1158.4,956.3 L1160.4,956.5 L1162.4,956.8 L1164.3,957.1 L1166.3,957.4 L1168.3,957.6 L1170.3,957.9 L1172.2,958.1 L1174.2,958.4 L1176.2,958.6 L1178.2,958.8 L1180.1,959.1 L1182.1,959.3 L1184.1,959.5 L1186.1,959.7 L1188.1,959.8 L1190.0,960.0 L1192.0,960.2 L1194.0,960.4 L1196.0,960.5 L1198.0,960.7 L1200.0,960.8 L1201.9,961.0 L1203.9,961.1 L1205.9,961.2 L1207.9,961.4 L1209.9,961.5 L1211.9,961.6 L1213.9,961.7 L1215.8,961.8 L1217.8,961.9 L1219.8,962.0 L1221.8,962.1 L1223.8,962.1 L1225.8,962.2 L1227.8,962.3 L1229.8,962.3 L1231.8,962.4 L1233.7,962.4 L1235.7,962.5 L1237.7,962.5 L1239.7,962.6 L1241.7,962.6 L1243.7,962.6 L1245.7,962.6 L1247.7,962.6 L1249.7,962.7 L1251.7,962.7 L1253.7,962.7 L1255.7,962.7 L1257.7,962.7 L1259.7,962.7 L1261.7,962.6 L1263.7,962.6 L1265.7,962.6 L1267.7,962.6 L1269.7,962.6 L1271.7,962.5 L1273.7,962.5 L1275.7,962.5 L1277.7,962.4 L1279.7,962.4 L1281.7,962.3 L1283.7,962.3 L1285.7,962.2 L1287.7,962.2 L1289.7,962.1 L1291.7,962.1 L1293.7,962.0 L1295.7,961.9 L1297.7,961.9 L1299.7,961.8 L1301.7,961.7 L1303.7,961.7 L1305.7,961.6 L1307.7,961.5 L1309.7,961.4 L1311.7,961.4 L1313.7,961.3 L1315.7,961.2 L1317.7,961.1 L1319.8,961.0 L1321.8,960.9 L1323.8,960.9 L1325.8,960.8 L1327.8,960.7 L1329.8,960.6 L1331.8,960.5 L1333.8,960.4 L1335.8,960.3 L1337.9,960.2 L1339.9,960.1 L1341.9,960.0 L1343.9,959.9 L1345.9,959.8 L1347.9,959.7 L1349.9,959.6 L1352.0,959.5 L1354.0,959.4 L1356.0,959.4 L1358.0,959.3 L1360.0,959.2 L1362.0,959.1 L1364.0,959.0 L1366.1,958.9 L1368.1,958.8 L1370.1,958.7 L1372.1,958.6 L1374.1,958.5 L1376.2,958.4 L1378.2,958.3 L1380.2,958.2 L1382.2,958.2 L1384.2,958.1 L1386.3,957.9 L1388.3,957.8 L1390.3,957.7 L1392.3,957.5 L1394.2,957.3 L1396.2,957.1 L1398.2,956.8 L1400.2,956.6 L1402.1,956.2 L1404.0,955.9 L1406.0,955.4 L1407.9,955.0 L1409.7,954.4 L1411.6,953.9 L1413.5,953.2 L1415.3,952.5 L1417.1,951.7 L1418.9,950.9 L1420.7,949.9 L1422.4,948.9 L1424.1,947.9 L1425.8,946.8 L1427.5,945.6 L1429.1,944.4 L1430.7,943.2 L1432.2,941.9 L1433.7,940.6 L1435.2,939.2 L1436.7,937.8 L1438.1,936.4 L1439.5,934.9 L1440.8,933.5 L1442.1,932.0 L1443.4,930.4 L1444.7,928.9 L1446.0,927.3 L1447.2,925.8 L1448.4,924.2 L1449.6,922.6 L1450.8,921.0 L1452.0,919.4 L1453.2,917.8 L1454.5,916.3 L1455.9,914.9 L1457.4,913.5 L1459.0,912.2 L1460.7,911.0 L1462.5,909.9 L1464.4,909.0 L1466.3,908.4 L1468.2,908.3 L1470.0,908.7 L1471.8,909.5 L1473.4,910.6 L1475.0,912.0 L1476.6,913.6 L1478.0,915.2 L1479.4,916.8 L1480.7,918.4 L1481.9,920.0 L1483.1,921.6 L1484.2,923.3 L1485.3,924.9 L1486.4,926.5 L1487.5,928.1 L1488.5,929.8 L1489.5,931.5 L1490.5,933.2 L1491.5,934.9 L1492.5,936.7 L1493.5,938.4 L1494.5,940.1 L1495.5,941.9 L1496.5,943.7 L1497.5,945.4" fill="none" stroke="#0072BD" stroke-width="12.5" stroke-linejoin="round" stroke-linecap="square"/>
<g fill="#0072BD" stroke="none">
<polygon points="591.8,343.6 615.0,307.6 614.4,327.4 633.3,333.2"/>
</g>
<line x1="780.5" y1="208.2" x2="612.2" y2="329.0" stroke="#0072BD" stroke-width="8.3"/>
<g fill="#57AF1F" stroke="none">
<polygon points="620.8,706.1 646.2,671.6 644.4,691.3 662.9,698.3"/>
</g>
<line x1="994.7" y1="472.0" x2="642.1" y2="692.8" stroke="#57AF1F" stroke-width="8.3"/>
<g fill="#FB5007" stroke="none">
<polygon points="1286.9,974.9 1271.3,935.0 1287.0,947.0 1302.8,935.2"/>
</g>
<line x1="1287.9" y1="744.7" x2="1287.0" y2="949.8" stroke="#FB5007" stroke-width="8.3"/>
<g class="tick" text-anchor="middle">
<text x="235.3" y="1095.2">200</text>
<text x="393.0" y="1095.2">300</text>
<text x="550.7" y="1095.2">400</text>
<text x="708.3" y="1095.2">500</text>
<text x="866.0" y="1095.2">600</text>
<text x="1023.7" y="1095.2">700</text>
<text x="1181.3" y="1095.2">800</text>
<text x="1339.0" y="1095.2">900</text>
<text x="1496.7" y="1095.2">1000</text>
</g>
<g class="tick" text-anchor="end">
<text x="214.5" y="1039.9">0</text>
<text x="214.5" y="971.0">1</text>
<text x="214.5" y="902.0">2</text>
<text x="214.5" y="833.1">3</text>
<text x="214.5" y="764.1">4</text>
<text x="214.5" y="695.2">5</text>
<text x="214.5" y="626.2">6</text>
<text x="214.5" y="557.3">7</text>
<text x="214.5" y="488.3">8</text>
<text x="214.5" y="419.4">9</text>
<text x="214.5" y="350.4">10</text>
<text x="214.5" y="281.5">11</text>
<text x="214.5" y="212.5">12</text>
<text x="214.5" y="143.6">13</text>
<text x="214.5" y="74.6">14</text>
</g>
<text class="lab" x="778.5" y="1172.5" style="font-weight:normal">λ</text><text class="lab" x="829.8" y="1172.5">(nm)</text>
<g transform="translate(101.2,673.7) rotate(-90)" fill="#262626"><text class="mu" font-size="56" transform="translate(1.3,2.6) scale(1.14,1)">μ</text><text class="lab" x="37.5" y="29" style="font-size:47px">a</text><text class="lab" x="81.5" y="0">(cm</text><text class="lab" style="font-size:50px" transform="translate(191.2,-27.5) scale(1.2,1)">−</text><text class="lab" style="font-size:49px" transform="translate(230.5,-29.7) scale(0.82,1)">1</text><text class="lab" x="258" y="0">)</text></g>
<text class="ann" x="403.6" y="172" fill="#0072BD">2.19 fold</text>
<text class="ann" x="405.4" y="245" fill="#57AF1F">26.42 fold</text>
<text class="ann" x="625.6" y="384.7" fill="#0072BD">3.55 fold</text>
<text class="ann" x="626.1" y="462" fill="#57AF1F" xml:space="preserve">25.80  fold</text>
<text class="ann" x="861.4" y="747.2" fill="#0072BD">2.73 fold</text>
<text class="ann" x="870.9" y="800.2" fill="#57AF1F" xml:space="preserve">9.26  fold</text>
<g fill="#0072BD"><text class="mu" font-size="57" transform="translate(802,167) scale(1.15,1)">μ</text><text class="sub" x="839.3" y="196" style="font-size:50px">a</text></g>
<g fill="#57AF1F"><text class="mu" font-size="57" transform="translate(1016,431.5) scale(1.15,1)">μ</text><text class="sub" x="1054" y="459.4" style="font-size:50px">a</text><text class="sub" x="1085.5" y="424" style="font-size:50px">-</text><text class="mu" font-size="57" transform="translate(1109.5,431.5) scale(1.15,1)">μ</text><text class="sub" x="1147.3" y="459.4" style="font-size:50px">a-pigment</text></g>
<g fill="#FB5007"><text class="mu" font-size="57" transform="translate(1160.5,703.5) scale(1.15,1)">μ</text><text class="sub" x="1196.9" y="732" style="font-size:50px">a-pigment</text></g>
</svg>
</body>
</html>
